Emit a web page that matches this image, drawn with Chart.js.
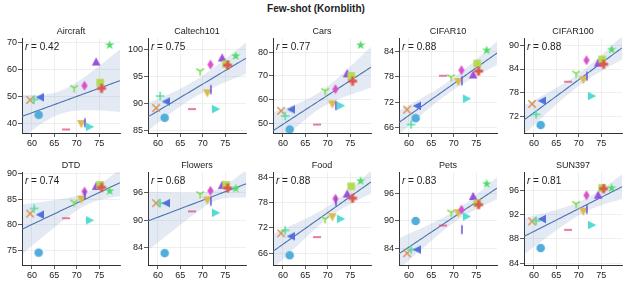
<!DOCTYPE html>
<html>
<head>
<meta charset="utf-8">
<script src="https://cdn.jsdelivr.net/npm/chart.js@4.4.0/dist/chart.umd.min.js"></script>
<style>
  body { margin: 0; background: #fff; width: 632px; height: 285px; overflow: hidden; position: relative;
         font-family: "Liberation Sans", Arial, sans-serif; }
  #suptitle { position: absolute; left: 0; top: 3px; width: 632px; text-align: center;
              font-weight: bold; font-size: 10px; color: #222; }
  canvas { position: absolute; }
</style>
</head>
<body>
<div id="suptitle">Few-shot (Kornblith)</div>
<script>
// models, ordered by x (the same x for every panel)
const modelMarkers = ['x', '+', 'o', '<', '_', '1', 'v', 'd', '|', '>', '^', 's', 'P', '*'];
const xAcc = [59.6, 60.5, 61.5, 61.8, 67.6, 69.4, 71.0, 71.7, 71.8, 72.9, 74.3, 75.2, 75.5, 77.3];

// few-shot accuracy per dataset, same model order
const aircraft   = [48.8, 49.0, 43.3, 49.8, 37.9, 53.3, 39.9, 54.1, 40.4, 38.9, 63.0, 55.2, 53.1, 69.1];
const caltech101 = [89.2, 91.4, 87.4, 90.4, 89.0, 96.0, 91.9, 97.2, 92.6, 89.0, 98.5, 97.3, 97.1, 98.8];
const cars       = [55.2, 53.0, 47.3, 55.8, 49.4, 63.7, 57.9, 64.4, 57.4, 57.4, 71.1, 70.0, 67.8, 83.1];
const cifar10    = [70.2, 66.7, 68.2, 71.1, 78.2, 77.9, 76.7, 79.5, 77.0, 72.8, 78.5, 81.1, 79.3, 84.2];
const cifar100   = [75.2, 72.6, 69.9, 76.0, 80.8, 82.9, 81.2, 86.2, 82.2, 77.2, 85.6, 86.4, 85.2, 88.9];
const dtd        = [82.2, 83.2, 74.6, 82.0, 81.3, 84.4, 84.9, 86.5, 85.9, 80.9, 87.6, 87.8, 87.3, 86.6];
const flowers    = [93.7, 93.7, 82.8, 93.7, 91.9, 95.7, 94.3, 96.4, 94.1, 91.6, 97.7, 97.7, 97.0, 96.9];
const food       = [70.7, 71.4, 65.5, 70.0, 69.8, 74.1, 74.5, 78.9, 78.2, 74.1, 80.1, 81.8, 79.0, 83.1];
const pets       = [82.9, 83.7, 90.0, 83.7, 89.0, 91.9, 91.7, 92.5, 88.1, 91.0, 95.5, 93.9, 93.6, 98.2];
const sun397     = [90.9, 91.0, 86.5, 91.3, 89.5, 93.8, 92.5, 95.2, 92.9, 90.3, 95.3, 96.4, 96.3, 96.4];

const panelNames = ['Aircraft', 'Caltech101', 'Cars', 'CIFAR10', 'CIFAR100', 'DTD', 'Flowers', 'Food', 'Pets', 'SUN397'];
const panelValues = [aircraft, caltech101, cars, cifar10, cifar100, dtd, flowers, food, pets, sun397];
const rLabels = ['0.42', '0.75', '0.77', '0.88', '0.88', '0.74', '0.68', '0.88', '0.83', '0.81'];

const xTicks = [60, 65, 70, 75];
const yTicks = [
  [40, 50, 60, 70], [85, 90, 95, 100], [50, 60, 70, 80], [66, 72, 78, 84], [72, 78, 84, 90],
  [75, 80, 85, 90], [84, 90, 96], [66, 72, 78, 84], [84, 90, 96], [84, 88, 92, 96]
];
const yLimits = [
  [36.6, 71.7], [84.6, 102.1], [45.8, 86.1], [64.7, 87.1], [67.9, 91.8],
  [72.2, 90.3], [80.2, 100.5], [63.2, 85.2], [80.3, 100.8], [83.7, 99.05]
];

// layout
const X_MIN = 57.8, X_MAX = 79.6;
const colX = [22, 147.5, 273, 398.5, 524];
const rowTop = [38, 171.5];
const rowH = [95, 93];
const PLOT_W = 100, AXIS_W = 30, TOP_PAD = 16, RIGHT_PAD = 3, XAXIS_H = 20;
const FONT = '"Liberation Sans", Arial, sans-serif';

// hls-like palette, one hue per marker
const markerHue = { 'P': 3, 'x': 27, 'v': 46, 's': 78, '1': 100, '*': 130, '+': 155, '>': 176, 'o': 200, '<': 226, '|': 250, '^': 272, 'd': 308, '_': 340 };
function markerColor(m) {
  return `hsl(${markerHue[m]}, 66%, 59%)`;
}

function markerCanvas(kind, color) {
  const c = document.createElement('canvas');
  c.width = 14; c.height = 14;
  const g = c.getContext('2d');
  g.translate(7, 7);
  g.fillStyle = color;
  g.strokeStyle = color;
  g.lineWidth = 1.5;
  const tri = (deg) => {
    g.rotate(deg * Math.PI / 180);
    g.beginPath(); g.moveTo(0, -4.3); g.lineTo(4.3, 4.0); g.lineTo(-4.3, 4.0); g.closePath(); g.fill();
  };
  const seg = (x1, y1, x2, y2) => { g.beginPath(); g.moveTo(x1, y1); g.lineTo(x2, y2); g.stroke(); };
  switch (kind) {
    case 'o': g.beginPath(); g.arc(0, 0, 4.3, 0, Math.PI * 2); g.fill(); break;
    case '^': tri(0); break;
    case 'v': tri(180); break;
    case '<': tri(-90); break;
    case '>': tri(90); break;
    case 's': g.fillRect(-3.8, -3.8, 7.6, 7.6); break;
    case 'x': seg(-3.7, -3.7, 3.7, 3.7); seg(-3.7, 3.7, 3.7, -3.7); break;
    case '+': seg(-4.3, 0, 4.3, 0); seg(0, -4.3, 0, 4.3); break;
    case '_': seg(-4, 0, 4, 0); break;
    case '|': seg(0, -4.6, 0, 4.6); break;
    case '1': seg(0, 0, 0, 4.4); seg(0, 0, -3.9, -2.3); seg(0, 0, 3.9, -2.3); break;
    case 'd':
      g.beginPath(); g.moveTo(0, -5); g.lineTo(3.1, 0); g.lineTo(0, 5); g.lineTo(-3.1, 0); g.closePath(); g.fill(); break;
    case 'P': {
      const a = 4.4, t = 1.5;
      g.beginPath();
      g.moveTo(-t, -a); g.lineTo(t, -a); g.lineTo(t, -t); g.lineTo(a, -t); g.lineTo(a, t); g.lineTo(t, t);
      g.lineTo(t, a); g.lineTo(-t, a); g.lineTo(-t, t); g.lineTo(-a, t); g.lineTo(-a, -t); g.lineTo(-t, -t);
      g.closePath(); g.fill(); break;
    }
    case '*': {
      const R = 5, r = R * 0.382;
      g.beginPath();
      for (let k = 0; k < 10; k++) {
        const rad = k % 2 ? r : R;
        const ang = -Math.PI / 2 + k * Math.PI / 5;
        g.lineTo(rad * Math.cos(ang), rad * Math.sin(ang));
      }
      g.closePath(); g.fill(); break;
    }
  }
  return c;
}
const markerImages = modelMarkers.map(m => markerCanvas(m, markerColor(m)));

// OLS line, 95% band from a robust (HC3) standard error
function regression(xs, ys) {
  const n = xs.length;
  let sx = 0, sxx = 0;
  xs.forEach(x => { sx += x; sxx += x * x; });
  const det = n * sxx - sx * sx;
  const A = [[sxx / det, -sx / det], [-sx / det, n / det]];
  let sxy = 0, sy = 0;
  xs.forEach((x, i) => { sxy += x * ys[i]; sy += ys[i]; });
  const icpt = A[0][0] * sy + A[0][1] * sxy;
  const slope = A[1][0] * sy + A[1][1] * sxy;
  const M = [[0, 0], [0, 0]];
  xs.forEach((x, i) => {
    const e = ys[i] - (icpt + slope * x);
    const h = A[0][0] + 2 * A[0][1] * x + A[1][1] * x * x;
    const w = e * e / ((1 - h) ** 2);
    M[0][0] += w; M[0][1] += w * x; M[1][0] += w * x; M[1][1] += w * x * x;
  });
  const mul = (P, Q) => [[P[0][0] * Q[0][0] + P[0][1] * Q[1][0], P[0][0] * Q[0][1] + P[0][1] * Q[1][1]],
                         [P[1][0] * Q[0][0] + P[1][1] * Q[1][0], P[1][0] * Q[0][1] + P[1][1] * Q[1][1]]];
  const V = mul(mul(A, M), A);
  const z = 1.96;
  const line = [], upper = [], lower = [];
  for (let k = 0; k <= 60; k++) {
    const x = X_MIN + (X_MAX - X_MIN) * k / 60;
    const y = icpt + slope * x;
    const half = z * Math.sqrt(V[0][0] + 2 * V[0][1] * x + V[1][1] * x * x);
    line.push({ x, y }); upper.push({ x, y: y + half }); lower.push({ x, y: y - half });
  }
  return { line, upper, lower };
}

const panelText = {
  id: 'panelText',
  afterDraw(chart, args, opts) {
    const { ctx, chartArea: a } = chart;
    ctx.save();
    ctx.fillStyle = '#222';
    ctx.textBaseline = 'alphabetic';
    ctx.textAlign = 'center';
    ctx.font = '9px ' + FONT;
    ctx.fillText(opts.title, (a.left + a.right) / 2, a.top - 4);
    ctx.textAlign = 'left';
    ctx.font = 'italic 10px ' + FONT;
    const x0 = a.left + 3, y0 = a.top + 12;
    ctx.fillText('r', x0, y0);
    const w = ctx.measureText('r').width;
    ctx.font = '10px ' + FONT;
    ctx.fillText(' = ' + opts.r, x0 + w, y0);
    ctx.restore();
  }
};

panelNames.forEach((name, i) => {
  const col = i % 5, row = Math.floor(i / 5);
  const cv = document.createElement('canvas');
  cv.width = AXIS_W + PLOT_W + RIGHT_PAD;
  cv.height = TOP_PAD + rowH[row] + XAXIS_H;
  cv.style.left = (colX[col] - AXIS_W) + 'px';
  cv.style.top = (rowTop[row] - TOP_PAD) + 'px';
  document.body.appendChild(cv);

  const ys = panelValues[i];
  const fit = regression(xAcc, ys);
  const tickFont = { family: FONT, size: 9 };

  new Chart(cv, {
    type: 'scatter',
    data: {
      datasets: [
        {
          data: xAcc.map((x, k) => ({ x, y: ys[k] })),
          pointStyle: markerImages,
          pointRadius: 4,
          pointHoverRadius: 4,
          order: 0
        },
        {
          type: 'line', data: fit.line, borderColor: '#4c72b0', borderWidth: 1.1,
          pointRadius: 0, fill: false, order: 1
        },
        {
          type: 'line', data: fit.upper, borderColor: 'rgba(0,0,0,0)', borderWidth: 0,
          pointRadius: 0, fill: '+1', backgroundColor: 'rgba(76,114,176,0.15)', order: 2
        },
        {
          type: 'line', data: fit.lower, borderColor: 'rgba(0,0,0,0)', borderWidth: 0,
          pointRadius: 0, fill: false, order: 3
        }
      ]
    },
    options: {
      responsive: false,
      animation: false,
      events: [],
      layout: { padding: { top: TOP_PAD, right: RIGHT_PAD, left: 0, bottom: 0 } },
      plugins: {
        legend: { display: false },
        tooltip: { enabled: false },
        panelText: { title: name, r: rLabels[i] }
      },
      scales: {
        x: {
          type: 'linear', min: X_MIN, max: X_MAX,
          afterBuildTicks: ax => { ax.ticks = xTicks.map(v => ({ value: v })); },
          afterFit: s => { s.height = XAXIS_H; },
          grid: { color: '#ebebeb', lineWidth: 0.8, tickColor: '#333', tickLength: 4 },
          border: { color: '#333', width: 1 },
          ticks: { font: tickFont, color: '#222', padding: 1, maxRotation: 0 }
        },
        y: {
          type: 'linear', min: yLimits[i][0], max: yLimits[i][1],
          afterBuildTicks: ax => { ax.ticks = yTicks[i].map(v => ({ value: v })); },
          afterFit: s => { s.width = AXIS_W; },
          grid: { color: '#ebebeb', lineWidth: 0.8, tickColor: '#333', tickLength: 4 },
          border: { color: '#333', width: 1 },
          ticks: { font: tickFont, color: '#222', padding: 1 }
        }
      }
    },
    plugins: [panelText]
  });
});
</script>
</body>
</html>
